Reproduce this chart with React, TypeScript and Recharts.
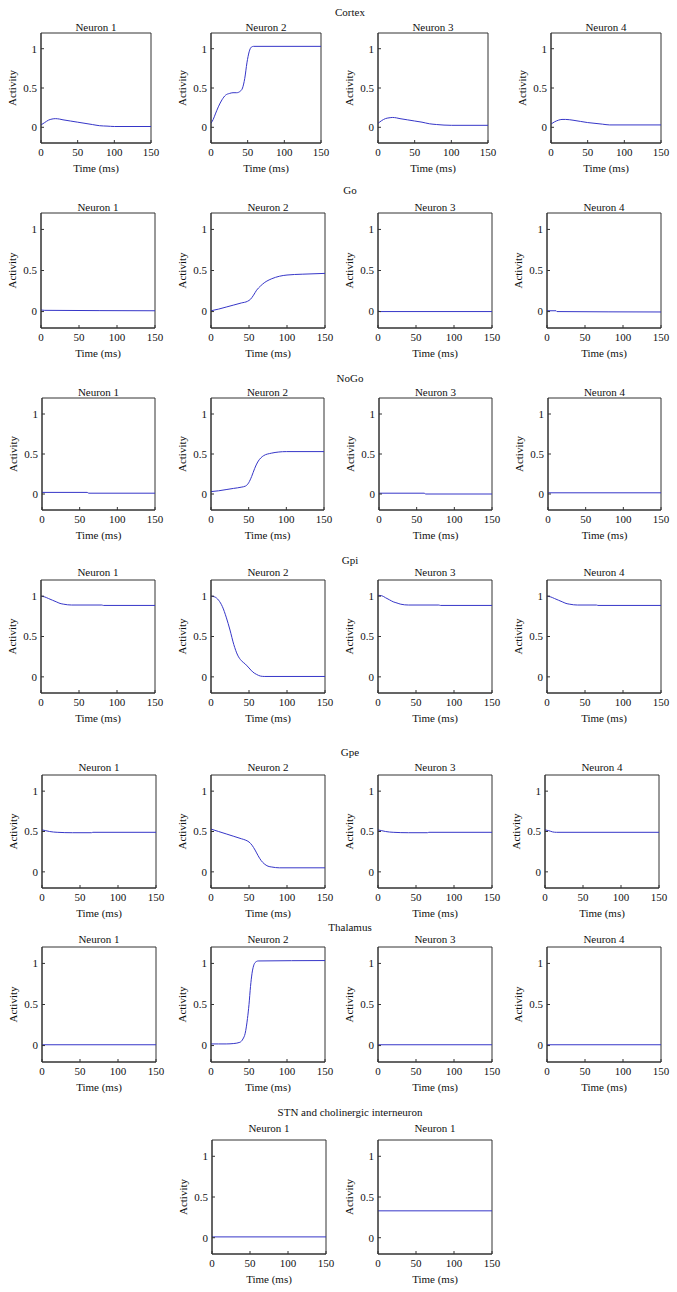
import React from 'react';
import { LineChart, Line, XAxis, YAxis, ReferenceArea } from 'recharts';

const FONT = '"Liberation Serif", "DejaVu Serif", serif';
const LINE_COLOR = '#3636c8';
const AXIS_COLOR = '#333333';
const TEXT_COLOR = '#111111';

const X_TICKS = [0, 50, 100, 150];
const Y_TICKS = [0, 0.5, 1];
const X_DOMAIN = [0, 150];
const Y_DOMAIN = [-0.2, 1.2];

// ---- data: [time (ms), activity] ----
const cortexN1 = [[0, 0.03], [5, 0.06], [10, 0.09], [15, 0.105], [20, 0.11], [25, 0.105], [30, 0.095], [40, 0.08], [50, 0.065], [60, 0.05], [70, 0.035], [80, 0.02], [90, 0.015], [100, 0.01], [150, 0.01]];
const cortexN2 = [[0, 0.05], [3, 0.1], [6, 0.17], [10, 0.26], [15, 0.35], [20, 0.41], [25, 0.43], [30, 0.44], [35, 0.44], [40, 0.46], [43, 0.5], [46, 0.62], [49, 0.82], [52, 0.96], [55, 1.02], [58, 1.03], [150, 1.03]];
const cortexN3 = [[0, 0.05], [5, 0.085], [10, 0.11], [15, 0.12], [20, 0.125], [25, 0.12], [30, 0.11], [40, 0.095], [50, 0.08], [60, 0.065], [70, 0.045], [80, 0.035], [100, 0.025], [150, 0.025]];
const cortexN4 = [[0, 0.04], [5, 0.07], [10, 0.09], [15, 0.1], [20, 0.1], [30, 0.09], [40, 0.075], [50, 0.06], [60, 0.05], [70, 0.04], [80, 0.03], [150, 0.03]];

const goN1 = [[0, 0.02], [5, 0.015], [150, 0.01]];
const goN2 = [[0, 0.01], [10, 0.03], [20, 0.055], [30, 0.08], [40, 0.105], [48, 0.125], [52, 0.15], [56, 0.2], [60, 0.26], [65, 0.31], [70, 0.35], [80, 0.4], [90, 0.43], [100, 0.445], [120, 0.455], [150, 0.465]];
const goN3 = [[0, 0.01], [3, 0.0], [150, 0.0]];
const goN4 = [[0, 0.01], [12, 0.01], [13, 0.0], [150, -0.005]];

const nogoN1 = [[0, 0.02], [60, 0.02], [62, 0.01], [150, 0.01]];
const nogoN2 = [[0, 0.03], [10, 0.04], [20, 0.055], [30, 0.07], [40, 0.085], [46, 0.1], [50, 0.14], [54, 0.22], [58, 0.32], [62, 0.4], [66, 0.45], [70, 0.48], [80, 0.51], [90, 0.525], [100, 0.53], [150, 0.53]];
const nogoN3 = [[0, 0.01], [60, 0.01], [62, 0.0], [150, 0.0]];
const nogoN4 = [[0, 0.015], [150, 0.015]];

const gpiN1 = [[0, 1.0], [5, 0.99], [10, 0.97], [15, 0.95], [20, 0.93], [25, 0.91], [30, 0.9], [40, 0.89], [80, 0.89], [82, 0.885], [150, 0.885]];
const gpiN2 = [[0, 1.0], [5, 0.99], [10, 0.95], [15, 0.87], [20, 0.74], [25, 0.58], [30, 0.4], [35, 0.27], [40, 0.2], [45, 0.16], [50, 0.11], [55, 0.06], [60, 0.03], [65, 0.01], [70, 0.005], [150, 0.005]];
const gpiN3 = [[0, 1.01], [5, 1.005], [10, 0.98], [15, 0.955], [20, 0.93], [25, 0.915], [30, 0.9], [40, 0.89], [80, 0.89], [82, 0.885], [150, 0.885]];
const gpiN4 = [[0, 1.0], [5, 0.99], [10, 0.97], [15, 0.95], [20, 0.93], [25, 0.91], [30, 0.9], [40, 0.89], [65, 0.89], [67, 0.885], [150, 0.885]];

const gpeN1 = [[0, 0.52], [5, 0.51], [10, 0.5], [20, 0.49], [40, 0.485], [65, 0.485], [67, 0.49], [150, 0.49]];
const gpeN2 = [[0, 0.53], [10, 0.5], [20, 0.47], [30, 0.44], [40, 0.41], [45, 0.395], [50, 0.37], [54, 0.33], [58, 0.27], [62, 0.2], [66, 0.14], [70, 0.1], [75, 0.07], [80, 0.06], [90, 0.05], [150, 0.05]];
const gpeN3 = [[0, 0.52], [5, 0.51], [10, 0.5], [20, 0.49], [40, 0.485], [65, 0.485], [67, 0.49], [150, 0.49]];
const gpeN4 = [[0, 0.52], [5, 0.51], [10, 0.495], [15, 0.49], [150, 0.49]];

const thalN1 = [[0, 0.01], [150, 0.01]];
const thalN2 = [[0, 0.02], [10, 0.02], [20, 0.02], [30, 0.025], [38, 0.04], [42, 0.08], [45, 0.15], [48, 0.33], [50, 0.5], [52, 0.72], [54, 0.88], [56, 0.97], [58, 1.01], [62, 1.03], [150, 1.035]];
const thalN3 = [[0, 0.01], [150, 0.01]];
const thalN4 = [[0, 0.01], [150, 0.01]];

const stnN1 = [[0, 0.02], [2, 0.01], [150, 0.01]];
const cholN1 = [[0, 0.33], [150, 0.33]];

// ---- layout ----
type RowDef = {
  title: string;
  titleY: number;
  neuronY: number;
  top: number;
  h: number;
  w: number;
  cols: number[];
  names: string[];
  series: number[][][];
};

const ROWS: RowDef[] = [
  { title: 'Cortex', titleY: 12, neuronY: 27, top: 33, h: 110, w: 110, cols: [41, 211, 378, 551], names: ['Neuron 1', 'Neuron 2', 'Neuron 3', 'Neuron 4'], series: [cortexN1, cortexN2, cortexN3, cortexN4] },
  { title: 'Go', titleY: 190, neuronY: 207, top: 213, h: 115, w: 114, cols: [41, 211, 378, 547], names: ['Neuron 1', 'Neuron 2', 'Neuron 3', 'Neuron 4'], series: [goN1, goN2, goN3, goN4] },
  { title: 'NoGo', titleY: 378, neuronY: 392, top: 398, h: 112, w: 113, cols: [42, 211, 379, 548], names: ['Neuron 1', 'Neuron 2', 'Neuron 3', 'Neuron 4'], series: [nogoN1, nogoN2, nogoN3, nogoN4] },
  { title: 'Gpi', titleY: 560, neuronY: 572, top: 580, h: 113, w: 114, cols: [41, 211, 378, 547], names: ['Neuron 1', 'Neuron 2', 'Neuron 3', 'Neuron 4'], series: [gpiN1, gpiN2, gpiN3, gpiN4] },
  { title: 'Gpe', titleY: 752, neuronY: 767, top: 775, h: 113, w: 114, cols: [42, 211, 378, 545], names: ['Neuron 1', 'Neuron 2', 'Neuron 3', 'Neuron 4'], series: [gpeN1, gpeN2, gpeN3, gpeN4] },
  { title: 'Thalamus', titleY: 927, neuronY: 939, top: 947, h: 115, w: 114, cols: [42, 211, 378, 547], names: ['Neuron 1', 'Neuron 2', 'Neuron 3', 'Neuron 4'], series: [thalN1, thalN2, thalN3, thalN4] },
  { title: 'STN and cholinergic interneuron', titleY: 1112, neuronY: 1128, top: 1140, h: 114, w: 114, cols: [212, 378], names: ['Neuron 1', 'Neuron 1'], series: [stnN1, cholN1] },
];

const Y_AXIS_W = 58;
const X_AXIS_H = 50;
const M_TOP = 4;
const M_RIGHT = 14;

const textStyle: React.CSSProperties = {
  position: 'absolute',
  transform: 'translate(-50%, -50%)',
  whiteSpace: 'nowrap',
  fontFamily: FONT,
  fontSize: 11,
  lineHeight: 1,
  color: TEXT_COLOR,
};

function Panel({ x, y, w, h, series }: { x: number; y: number; w: number; h: number; series: number[][] }) {
  const data = series.map(([t, v]) => ({ t, v }));
  const cw = Y_AXIS_W + w + M_RIGHT;
  const ch = M_TOP + h + X_AXIS_H;
  const tickStyle = { fill: TEXT_COLOR, fontSize: 11, fontFamily: FONT };
  return (
    <div style={{ position: 'absolute', left: x - Y_AXIS_W, top: y - M_TOP, width: cw, height: ch }}>
      <LineChart width={cw} height={ch} data={data} margin={{ top: M_TOP, right: M_RIGHT, left: 0, bottom: 0 }}>
        <XAxis
          dataKey="t"
          type="number"
          domain={X_DOMAIN}
          ticks={X_TICKS}
          interval={0}
          allowDataOverflow
          height={X_AXIS_H}
          tickSize={-3}
          tickMargin={8}
          stroke={AXIS_COLOR}
          tick={tickStyle}
          label={{ value: 'Time (ms)', position: 'center', fill: TEXT_COLOR, fontSize: 11, fontFamily: FONT }}
        />
        <YAxis
          type="number"
          domain={Y_DOMAIN}
          ticks={Y_TICKS}
          interval={0}
          allowDataOverflow
          width={Y_AXIS_W}
          tickSize={-3}
          tickMargin={7}
          stroke={AXIS_COLOR}
          tick={tickStyle}
          label={{ value: 'Activity', angle: -90, position: 'center', fill: TEXT_COLOR, fontSize: 11, fontFamily: FONT }}
        />
        <ReferenceArea
          x1={X_DOMAIN[0]}
          x2={X_DOMAIN[1]}
          y1={Y_DOMAIN[0]}
          y2={Y_DOMAIN[1]}
          fill="none"
          fillOpacity={0}
          stroke={AXIS_COLOR}
          strokeWidth={1}
          ifOverflow="visible"
        />
        <Line
          dataKey="v"
          type="monotone"
          stroke={LINE_COLOR}
          strokeWidth={1}
          dot={false}
          activeDot={false}
          isAnimationActive={false}
        />
      </LineChart>
    </div>
  );
}

export default function App() {
  return (
    <div style={{ position: 'absolute', left: 0, top: 0, width: 677, height: 1292, background: '#ffffff', overflow: 'hidden' }}>
      {ROWS.map((row, ri) => (
        <React.Fragment key={ri}>
          <div style={{ ...textStyle, left: 350, top: row.titleY }}>{row.title}</div>
          {row.cols.map((cx, ci) => (
            <React.Fragment key={ci}>
              <div style={{ ...textStyle, left: cx + row.w / 2, top: row.neuronY }}>{row.names[ci]}</div>
              <Panel x={cx} y={row.top} w={row.w} h={row.h} series={row.series[ci]} />
            </React.Fragment>
          ))}
        </React.Fragment>
      ))}
    </div>
  );
}
